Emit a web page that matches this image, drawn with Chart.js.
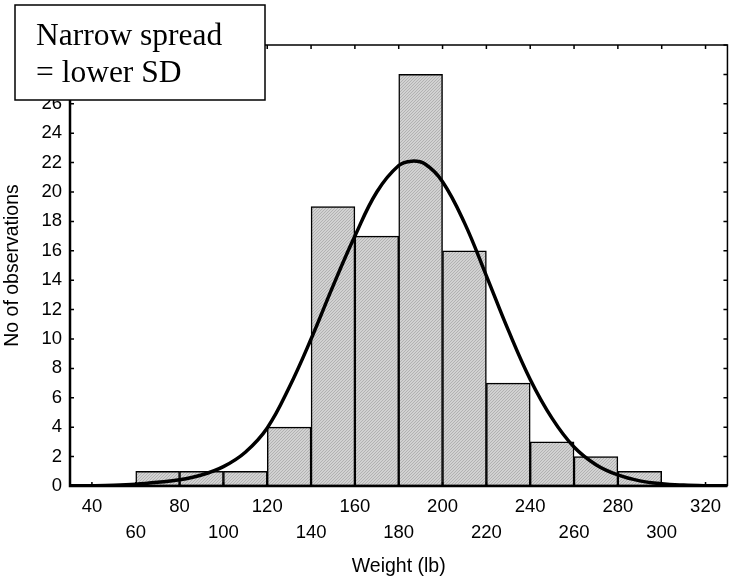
<!DOCTYPE html>
<html>
<head>
<meta charset="utf-8">
<script src="https://cdn.jsdelivr.net/npm/chart.js@4.4.1/dist/chart.umd.min.js"></script>
<style>
  body { margin: 0; background: #fff; }
  #wrap { width: 729px; height: 581px; position: relative; }
</style>
</head>
<body>
<div id="wrap"><canvas id="histChart"></canvas></div>
<script>
// histogram bins (centre of each 20 lb bin) and counts
const binMids = [70, 90, 110, 130, 150, 170, 190, 210, 230, 250, 270, 290];
const counts = [1, 1, 1, 4, 19, 17, 28, 16, 7, 3, 2, 1];

// fitted normal curve
const curveX = [30, 40, 50, 60, 70, 80, 90, 100, 110, 120, 130, 140, 150, 160, 170, 180, 186,
                192, 200, 210, 220, 230, 240, 250, 260, 270, 280, 290, 300, 310, 320, 330];
const curveY = [0.01, 0.02, 0.05, 0.12, 0.25, 0.42, 0.75, 1.32, 2.3, 3.95, 6.7, 10.0, 13.6, 17.0, 20.0, 21.8, 22.1,
                21.9, 20.7, 17.9, 14.3, 10.6, 7.25, 4.6, 2.65, 1.45, 0.75, 0.35, 0.15, 0.06, 0.02, 0.01];

const xTicks = [40, 60, 80, 100, 120, 140, 160, 180, 200, 220, 240, 260, 280, 300, 320];
const yTicks = [0, 2, 4, 6, 8, 10, 12, 14, 16, 18, 20, 22, 24, 26, 28, 30];

const noteLines = ['Narrow spread', '= lower SD'];

// hatched grey fill for the bars
function makeHatch() {
  const c = document.createElement('canvas');
  c.width = 3; c.height = 3;
  const g = c.getContext('2d');
  g.fillStyle = '#d2d2d2';
  g.fillRect(0, 0, 3, 3);
  g.fillStyle = '#b2b2b2';
  g.fillRect(2, 0, 1, 1);
  g.fillRect(1, 1, 1, 1);
  g.fillRect(0, 2, 1, 1);
  return g.createPattern(c, 'repeat');
}

const frameAndNote = {
  id: 'frameAndNote',
  afterDatasetsDraw(chart) {
    const { ctx, chartArea: a, scales: { x, y } } = chart;
    ctx.save();
    ctx.strokeStyle = '#000';
    // frame
    ctx.lineWidth = 1.5;
    ctx.beginPath();
    ctx.moveTo(a.left, a.top); ctx.lineTo(a.right, a.top); ctx.lineTo(a.right, a.bottom);
    ctx.stroke();
    ctx.lineWidth = 2.5;
    ctx.beginPath();
    ctx.moveTo(a.left, a.top); ctx.lineTo(a.left, a.bottom); ctx.lineTo(a.right, a.bottom);
    ctx.stroke();
    // inward ticks
    ctx.lineWidth = 1.5;
    ctx.beginPath();
    xTicks.forEach(v => {
      const px = x.getPixelForValue(v);
      ctx.moveTo(px, a.bottom); ctx.lineTo(px, a.bottom - 4);
      ctx.moveTo(px, a.top); ctx.lineTo(px, a.top + 4);
    });
    yTicks.forEach(v => {
      const py = y.getPixelForValue(v);
      ctx.moveTo(a.left, py); ctx.lineTo(a.left + 4, py);
      ctx.moveTo(a.right, py); ctx.lineTo(a.right - 4, py);
    });
    ctx.stroke();
    ctx.restore();
  },
  afterDraw(chart) {
    const ctx = chart.ctx;
    ctx.save();
    ctx.fillStyle = '#fff';
    ctx.fillRect(15, 5, 250, 95);
    ctx.strokeStyle = '#000';
    ctx.lineWidth = 1.5;
    ctx.strokeRect(15, 5, 250, 95);
    ctx.fillStyle = '#000';
    ctx.font = '31.5px "Liberation Serif", "Times New Roman", serif';
    ctx.textBaseline = 'alphabetic';
    ctx.fillText(noteLines[0], 36, 45);
    ctx.fillText(noteLines[1], 36, 82);
    ctx.restore();
  }
};

const ctx = document.getElementById('histChart').getContext('2d');
new Chart(ctx, {
  type: 'bar',
  data: {
    datasets: [{
      type: 'line',
      data: curveX.map((v, i) => ({ x: v, y: curveY[i] })),
      borderColor: '#000',
      borderWidth: 3.5,
      pointRadius: 0,
      tension: 0.4,
      fill: false,
      order: 0
    }, {
      type: 'bar',
      data: binMids.map((v, i) => ({ x: v, y: counts[i] })),
      backgroundColor: makeHatch(),
      borderColor: '#000',
      borderWidth: 1.5,
      borderSkipped: false,
      barPercentage: 1,
      categoryPercentage: 1,
      order: 1
    }]
  },
  options: {
    responsive: true,
    maintainAspectRatio: false,
    animation: false,
    layout: { padding: { top: 45, right: 1, left: 0, bottom: 0 } },
    plugins: { legend: { display: false }, tooltip: { enabled: false } },
    scales: {
      x: {
        type: 'linear',
        min: 30,
        max: 330,
        offset: false,
        grid: { display: false, drawTicks: false, offset: false },
        border: { display: false },
        afterBuildTicks: s => { s.ticks = xTicks.map(v => ({ value: v })); },
        afterFit: s => { s.height = 95; },
        ticks: {
          autoSkip: false,
          maxRotation: 0,
          padding: 8,
          color: '#000',
          font: { family: '"Liberation Sans", Arial, sans-serif', size: 18.5, lineHeight: 1.42 },
          callback: v => (xTicks.indexOf(v) % 2 === 0 ? [String(v)] : ['', String(v)])
        },
        title: {
          display: true,
          text: 'Weight (lb)',
          color: '#000',
          font: { family: '"Liberation Sans", Arial, sans-serif', size: 19.5 },
          padding: { top: 0, bottom: 3 }
        }
      },
      y: {
        min: 0,
        max: 30,
        grid: { display: false, drawTicks: false },
        border: { display: false },
        afterBuildTicks: s => { s.ticks = yTicks.map(v => ({ value: v })); },
        afterFit: s => { s.width = 70; },
        ticks: {
          padding: 8,
          color: '#000',
          font: { family: '"Liberation Sans", Arial, sans-serif', size: 18.5 }
        },
        title: {
          display: true,
          text: 'No of observations',
          color: '#000',
          font: { family: '"Liberation Sans", Arial, sans-serif', size: 19.5 },
          padding: { top: 1, bottom: 0 }
        }
      }
    }
  },
  plugins: [frameAndNote]
});
</script>
</body>
</html>
